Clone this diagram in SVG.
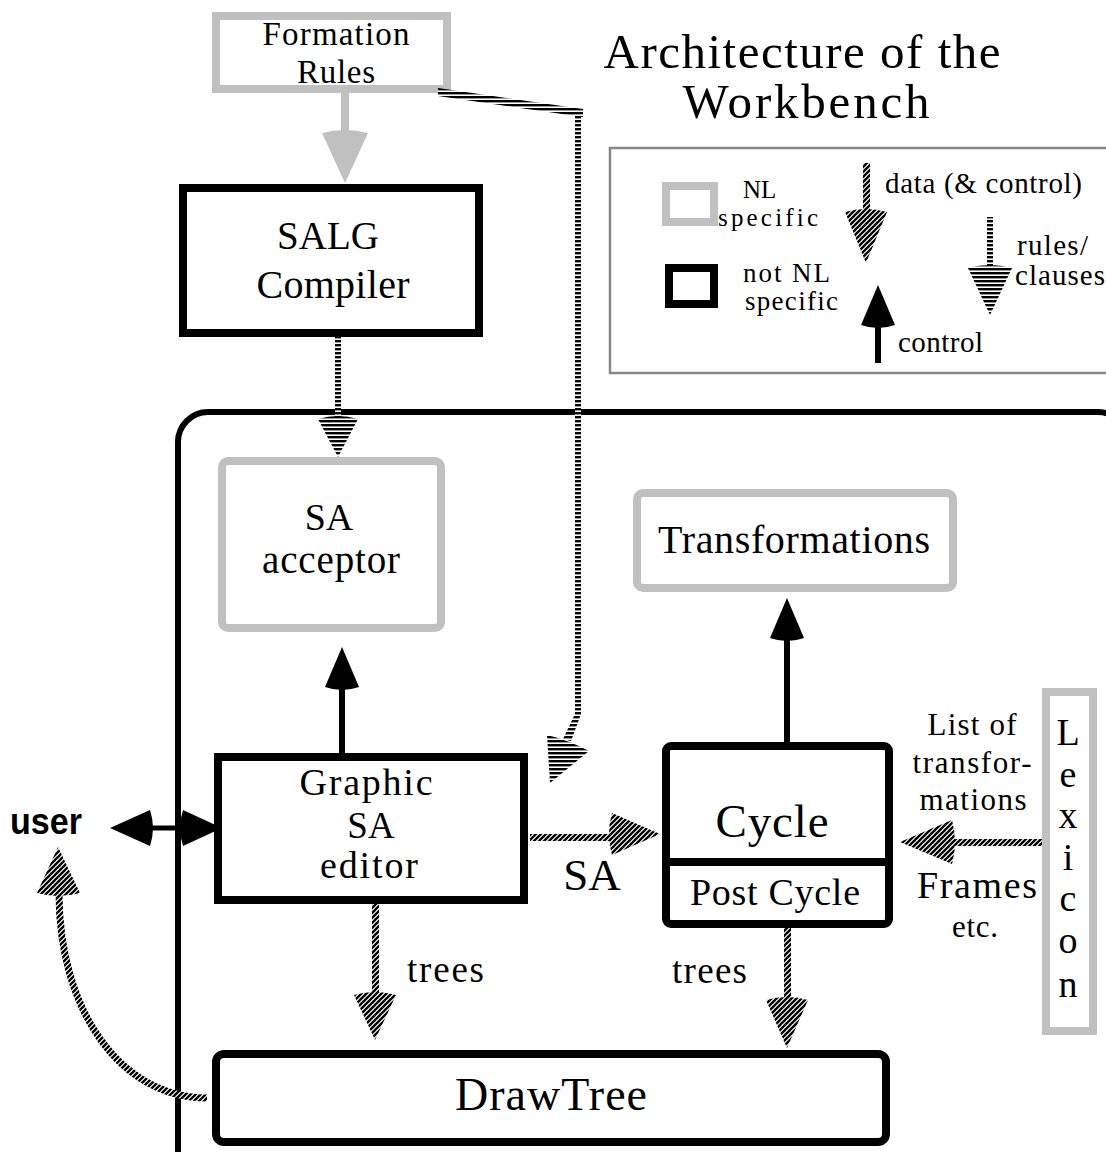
<svg xmlns="http://www.w3.org/2000/svg" width="1106" height="1152" viewBox="0 0 1106 1152">
<style>
.t{font-family:"Liberation Serif","Times New Roman",serif;fill:#000}
.m{text-anchor:middle}
.gbox{fill:#fff;stroke:#c0c0c0;stroke-width:8}
.bbox{fill:#fff;stroke:#000;stroke-width:8}
.ctl{fill:#000}
.data{fill:url(#diag)}
.rule{fill:url(#hstr)}
</style>
<defs>
<pattern id="diag" patternUnits="userSpaceOnUse" width="5" height="5">
<rect width="5" height="5" fill="#fff"/>
<path d="M0,5 L5,0 M-1,1 L1,-1 M4,6 L6,4" stroke="#000" stroke-width="2.3"/>
</pattern>
<pattern id="hstr" patternUnits="userSpaceOnUse" width="4" height="4">
<rect width="4" height="4" fill="#fff"/>
<rect width="4" height="2.4" fill="#000"/>
</pattern>
</defs>
<rect width="1106" height="1152" fill="#fff"/>

<g id="title">
<text class="t m" x="802" y="68" font-size="49" textLength="397">Architecture of the</text>
<text class="t m" x="806" y="118" font-size="49" textLength="247">Workbench</text>
</g>

<g id="legend">
<rect x="610" y="148" width="520" height="225" fill="#fff" stroke="#888" stroke-width="2.5"/>
<rect class="gbox" x="666" y="186" width="48" height="36"/>
<rect class="bbox" x="669" y="268" width="45" height="36"/>
<text class="t" x="743" y="198" font-size="25">NL</text>
<text class="t" x="718" y="226" font-size="25" textLength="100">specific</text>
<text class="t" x="743" y="282" font-size="27" textLength="87">not NL</text>
<text class="t" x="745" y="310" font-size="27" textLength="93">specific</text>
<text class="t" x="885" y="193" font-size="29" textLength="197">data (&amp; control)</text>
<text class="t" x="898" y="352" font-size="29" textLength="85">control</text>
<text class="t" x="1017" y="255" font-size="29" textLength="71">rules/</text>
<text class="t" x="1015" y="285" font-size="29" textLength="90">clauses</text>
<rect class="data" x="863" y="163" width="7" height="52"/>
<path class="data" d="M845,212 Q866,206 887,212 L866,263 Z"/>
<rect class="ctl" x="875" y="322" width="6" height="41"/>
<path class="ctl" d="M861,325 Q878,331 895,325 L878,285 Z"/>
<rect class="rule" x="987" y="217" width="6" height="52"/>
<path class="rule" d="M968,268 Q990,262 1012,268 L990,315 Z"/>
</g>

<g id="workbench-frame">
<rect x="178" y="412" width="950" height="800" rx="30" fill="none" stroke="#000" stroke-width="6"/>
</g>

<g id="formation-rules">
<rect class="gbox" x="216" y="16" width="231" height="73"/>
<text class="t m" x="336" y="45" font-size="33" textLength="147">Formation</text>
<text class="t m" x="336" y="83" font-size="33" textLength="78">Rules</text>
</g>

<g id="salg-compiler">
<rect class="bbox" x="183" y="188" width="296" height="145"/>
<text class="t m" x="328" y="249" font-size="39">SALG</text>
<text class="t m" x="333" y="298" font-size="40" textLength="153">Compiler</text>
</g>

<g id="sa-acceptor">
<rect class="gbox" x="222" y="461" width="219" height="167" rx="6"/>
<text class="t m" x="329" y="530" font-size="38">SA</text>
<text class="t m" x="331" y="573" font-size="39" textLength="138">acceptor</text>
</g>

<g id="transformations">
<rect class="gbox" x="637" y="493" width="316" height="95" rx="6"/>
<text class="t m" x="794" y="553" font-size="40" textLength="272">Transformations</text>
</g>

<g id="graphic-sa-editor">
<rect class="bbox" x="218" y="757" width="306" height="143"/>
<text class="t m" x="366" y="795" font-size="38" textLength="133">Graphic</text>
<text class="t m" x="371" y="838" font-size="37">SA</text>
<text class="t m" x="369" y="878" font-size="38" textLength="98">editor</text>
</g>

<g id="cycle">
<rect class="bbox" x="666" y="746" width="223" height="178" rx="5"/>
<line x1="666" y1="862" x2="889" y2="862" stroke="#000" stroke-width="8"/>
<text class="t m" x="772" y="837" font-size="47" textLength="113">Cycle</text>
<text class="t m" x="775" y="905" font-size="38" textLength="170">Post Cycle</text>
</g>

<g id="lexicon">
<rect class="gbox" x="1046" y="692" width="47" height="339"/>
<text class="t m" x="1068" y="745" font-size="38">L</text>
<text class="t m" x="1068" y="787" font-size="38">e</text>
<text class="t m" x="1068" y="828" font-size="38">x</text>
<text class="t m" x="1068" y="870" font-size="38">i</text>
<text class="t m" x="1068" y="911" font-size="38">c</text>
<text class="t m" x="1068" y="953" font-size="38">o</text>
<text class="t m" x="1068" y="997" font-size="38">n</text>
</g>

<g id="drawtree">
<rect class="bbox" x="216" y="1054" width="670" height="88" rx="8"/>
<text class="t m" x="551" y="1110" font-size="46" textLength="192">DrawTree</text>
</g>

<g id="user">
<text x="10" y="834" font-family="Liberation Sans, Arial, sans-serif" font-weight="bold" font-size="36" textLength="72" lengthAdjust="spacingAndGlyphs">user</text>
</g>

<g id="connectors">
<!-- Formation Rules -> SALG Compiler (gray) -->
<rect x="341" y="93" width="8" height="42" fill="#c0c0c0"/>
<path d="M322,133 Q345,127 368,133 L345,183 Z" fill="#c0c0c0"/>
<!-- Formation Rules -> editor (rules) -->
<polygon class="rule" points="438,88 583,109 583,117 438,96"/>
<rect class="rule" x="575" y="112" width="6" height="604"/>
<polygon class="rule" points="575,714 581,714 571,741 563,739"/>
<path class="rule" d="M547,735 Q568,740 589,751 L550,783 Z"/>
<!-- SALG -> SA acceptor (rules) -->
<rect class="rule" x="335" y="337" width="6" height="83"/>
<path class="rule" d="M318,419 Q338,413 358,419 L338,457 Z"/>
<!-- editor -> SA acceptor (control) -->
<rect class="ctl" x="339" y="684" width="6" height="73"/>
<path class="ctl" d="M325,687 Q342,693 359,687 L342,647 Z"/>
<!-- Cycle -> Transformations (control) -->
<rect class="ctl" x="784" y="636" width="6" height="106"/>
<path class="ctl" d="M770,638 Q787,644 804,638 L787,598 Z"/>
<!-- user <-> editor -->
<rect class="ctl" x="148" y="825.5" width="38" height="5"/>
<path class="ctl" d="M150,810 Q156,828 150,846 L110,828 Z"/>
<path class="ctl" d="M183,810 Q177,828 183,846 L222,828 Z"/>
<!-- editor -> Cycle (SA) -->
<rect class="data" x="530" y="834" width="86" height="7"/>
<path class="data" d="M612,813 Q606,834 612,855 L660,834 Z"/>
<text class="t m" x="592" y="890" font-size="45">SA</text>
<!-- Lexicon -> Cycle -->
<rect class="data" x="948" y="839" width="94" height="7"/>
<path class="data" d="M952,820 Q958,842 952,864 L900,842 Z"/>
<text class="t m" x="972" y="735" font-size="31" textLength="89">List of</text>
<text class="t m" x="972" y="773" font-size="31" textLength="119">transfor-</text>
<text class="t m" x="973" y="810" font-size="31" textLength="107">mations</text>
<text class="t m" x="977" y="898" font-size="38" textLength="120">Frames</text>
<text class="t m" x="975" y="937" font-size="31" textLength="46">etc.</text>
<!-- editor -> DrawTree (trees) -->
<rect class="data" x="372" y="904" width="7" height="94"/>
<path class="data" d="M354,995 Q375,989 396,995 L375,1040 Z"/>
<text class="t" x="407" y="982" font-size="37" textLength="77">trees</text>
<!-- Cycle -> DrawTree (trees) -->
<rect class="data" x="784" y="928" width="7" height="75"/>
<path class="data" d="M766,1000 Q787,994 808,1000 L787,1048 Z"/>
<text class="t" x="672" y="983" font-size="37" textLength="75">trees</text>
<!-- DrawTree -> user -->
<path d="M207,1098 C120,1098 59,1010 59,893" fill="none" stroke="url(#diag)" stroke-width="7"/>
<path class="data" d="M37,893 Q58,899 80,893 L58,847 Z"/>
</g>
</svg>
